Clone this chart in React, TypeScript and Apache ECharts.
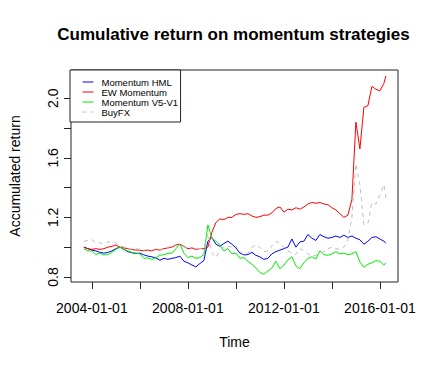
import React, { useEffect, useRef } from "react";
import * as echarts from "echarts";

const dates = [
  "2003-09", "2003-11",
  "2004-01", "2004-03", "2004-05", "2004-07", "2004-09", "2004-11",
  "2005-01", "2005-03", "2005-05", "2005-07", "2005-09", "2005-11",
  "2006-01", "2006-03", "2006-05", "2006-07", "2006-09", "2006-11",
  "2007-01", "2007-03", "2007-05", "2007-07", "2007-09", "2007-11",
  "2008-01", "2008-03", "2008-05", "2008-07", "2008-09", "2008-11",
  "2009-01", "2009-03", "2009-05", "2009-07", "2009-09", "2009-11",
  "2010-01", "2010-03", "2010-05", "2010-07", "2010-09", "2010-11",
  "2011-01", "2011-03", "2011-05", "2011-07", "2011-09", "2011-11",
  "2012-01", "2012-03", "2012-05", "2012-07", "2012-09", "2012-11",
  "2013-01", "2013-03", "2013-05", "2013-07", "2013-09", "2013-11",
  "2014-01", "2014-03", "2014-05", "2014-07", "2014-09", "2014-11",
  "2015-01", "2015-03", "2015-05", "2015-07", "2015-09", "2015-11",
  "2016-01", "2016-03", "2016-04",
];

const momentumHML = [
  1.0, 0.99, 0.98, 0.975, 0.965, 0.96, 0.965, 0.975, 0.99, 1.0,
  0.985, 0.97, 0.962, 0.958, 0.96, 0.948, 0.94, 0.935, 0.928, 0.912,
  0.925, 0.918, 0.925, 0.93, 0.94, 0.905, 0.895, 0.88, 0.868, 0.89,
  0.91, 1.04, 1.065, 1.02, 1.005, 1.025, 1.04, 1.02, 0.995, 0.96,
  0.948, 0.95, 0.965, 0.945, 0.935, 0.918, 0.925, 0.955, 0.97, 0.98,
  0.99, 1.0, 1.055, 1.0, 1.035, 1.04, 1.085, 1.06, 1.045, 1.085,
  1.07, 1.06, 1.065, 1.075, 1.065, 1.08, 1.065, 1.075, 1.06, 1.05,
  1.02, 1.04, 1.065, 1.07, 1.055, 1.04, 1.027,
];

const ewMomentum = [
  1.0, 0.99, 0.985, 0.99, 0.985, 0.99, 1.0, 1.005, 1.015, 1.0,
  0.995, 0.99, 0.985, 0.98, 0.98, 0.975, 0.98, 0.975, 0.985, 0.98,
  0.99, 0.995, 1.0, 1.015, 1.02, 1.005, 0.99, 0.995, 0.985, 0.99,
  0.99, 1.0, 1.1, 1.165, 1.19, 1.185, 1.2, 1.2, 1.22, 1.225,
  1.22, 1.225, 1.21, 1.2, 1.205, 1.215, 1.215, 1.23, 1.26, 1.27,
  1.235, 1.255, 1.25, 1.265, 1.255, 1.27, 1.29, 1.3, 1.295, 1.3,
  1.29, 1.285, 1.265, 1.25, 1.225, 1.2, 1.215, 1.32, 1.84, 1.66,
  1.94, 1.95, 2.08, 2.06, 2.05, 2.1, 2.15,
];

const momentumV5V1 = [
  0.99, 0.975, 0.975, 0.95, 0.96, 0.948, 0.95, 0.965, 0.985, 1.0,
  0.985, 0.975, 0.965, 0.96, 0.955, 0.925, 0.928, 0.918, 0.93, 0.945,
  0.95, 0.958, 0.96, 0.99, 1.02, 0.96, 0.93, 0.94, 0.925, 0.93,
  0.95, 1.15, 1.06, 1.04, 1.015, 0.975, 0.99, 0.955, 0.96, 0.925,
  0.93, 0.905, 0.885, 0.86, 0.83, 0.818, 0.84, 0.86, 0.905, 0.855,
  0.88, 0.915, 0.935, 0.875, 0.855, 0.895, 0.925, 0.935, 0.92, 0.975,
  0.95, 0.945, 0.955, 0.97, 0.955, 0.96, 0.95, 0.955, 0.97, 0.9,
  0.865, 0.885, 0.895, 0.91, 0.905, 0.88, 0.895,
];

const buyFX = [
  1.04, 1.045, 1.05, 1.03, 1.03, 1.02, 1.035, 1.04, 1.03, 1.01,
  1.0, 0.995, 0.985, 0.99, 0.985, 0.98, 0.985, 0.98, 0.99, 0.985,
  0.99, 1.0, 1.005, 1.01, 1.015, 1.0, 0.995, 1.0, 0.99, 0.99,
  0.995, 1.09, 0.96, 0.93, 0.98, 1.0, 1.005, 1.0, 1.01, 0.975,
  0.945, 0.96, 1.0, 1.015, 1.0, 0.97, 0.975, 1.01, 1.04, 1.025,
  1.0, 0.975, 0.96, 0.95, 0.99, 0.975, 0.955, 0.94, 0.945, 0.96,
  0.97, 0.99, 1.0, 0.99, 0.985, 1.0, 1.05, 1.2, 1.56, 1.42,
  1.15, 1.16, 1.3, 1.29, 1.35, 1.42, 1.33,
];

const seriesNames = ["Momentum HML", "EW Momentum", "Momentum V5-V1", "BuyFX"];
const seriesColors = ["#0000ff", "#ff0000", "#00ee00", "#bebebe"];

const xTicks = [2004, 2006, 2008, 2010, 2012, 2014, 2016];
const xLabels = [2004, 2008, 2012, 2016];
const yTicks = [0.8, 1.0, 1.2, 1.4, 1.6, 1.8, 2.0];
const yLabels = [0.8, 1.2, 1.6, 2.0];

const FONT = "'Liberation Sans', Arial, Helvetica, sans-serif";

function toYear(d: string): number {
  const [y, m] = d.split("-").map(Number);
  return y + (m - 1) / 12;
}

export default function App() {
  const ref = useRef<HTMLDivElement>(null);

  useEffect(() => {
    document.body.style.margin = "0";
    if (!ref.current) return;
    const chart = echarts.init(ref.current, null, { renderer: "svg" });
    const allValues = [momentumHML, ewMomentum, momentumV5V1, buyFX];
    const series = allValues.map((vals, k) => ({
      name: seriesNames[k],
      type: "line",
      symbol: "none",
      data: dates.map((d, i) => [toYear(d), vals[i]]),
      lineStyle: {
        color: seriesColors[k],
        width: 1,
        type: k === 3 ? [4, 4] : "solid",
      },
      itemStyle: { color: seriesColors[k] },
      z: 2 + k,
    }));

    chart.setOption({
      animation: false,
      backgroundColor: "#ffffff",
      textStyle: { fontFamily: FONT },
      title: {
        text: "Cumulative return on momentum strategies",
        left: 233.5,
        top: 26,
        padding: 0,
        textAlign: "center",
        textStyle: { fontSize: 17, fontWeight: "bold", color: "#000", fontFamily: FONT },
      },
      legend: {
        orient: "vertical",
        left: 70,
        top: 70,
        padding: [7, 2.5, 5, 12],
        itemWidth: 11,
        itemHeight: 9.7,
        itemGap: 0,
        itemStyle: { opacity: 0 },
        lineStyle: { width: 1 },
        backgroundColor: "#ffffff",
        borderColor: "#222",
        borderWidth: 1,
        textStyle: { fontSize: 9.5, color: "#000", fontFamily: FONT, lineHeight: 9.7, padding: [0, 0, 0, 3] },
        data: seriesNames,
        z: 10,
      },
      grid: {
        left: 69,
        right: 36,
        top: 70,
        bottom: 87,
        show: true,
        borderColor: "#222",
        borderWidth: 1,
        backgroundColor: "transparent",
      },
      xAxis: {
        type: "value",
        min: 2003.13,
        max: 2016.754,
        name: "Time",
        nameLocation: "middle",
        nameGap: 53,
        nameTextStyle: { fontSize: 14, color: "#000", fontFamily: FONT },
        axisLine: { show: false },
        splitLine: { show: false },
        axisTick: {
          show: true,
          length: 7,
          lineStyle: { color: "#222" },
          customValues: xTicks,
        },
        axisLabel: {
          show: true,
          margin: 19,
          fontSize: 14,
          color: "#000",
          fontFamily: FONT,
          customValues: xLabels,
          formatter: (v: number) => `${Math.round(v)}-01-01`,
        },
      },
      yAxis: {
        type: "value",
        min: 0.766,
        max: 2.19,
        name: "Accumulated return",
        nameLocation: "middle",
        nameGap: 49,
        nameTextStyle: { fontSize: 14, color: "#000", fontFamily: FONT },
        axisLine: { show: false },
        splitLine: { show: false },
        axisTick: {
          show: true,
          length: 7,
          lineStyle: { color: "#222" },
          customValues: yTicks,
        },
        axisLabel: {
          show: true,
          rotate: 90,
          margin: 11,
          fontSize: 14,
          color: "#000",
          fontFamily: FONT,
          customValues: yLabels,
          formatter: (v: number) => v.toFixed(1),
        },
      },
      series,
    });

    return () => chart.dispose();
  }, []);

  return <div ref={ref} style={{ width: 434, height: 369 }} />;
}
